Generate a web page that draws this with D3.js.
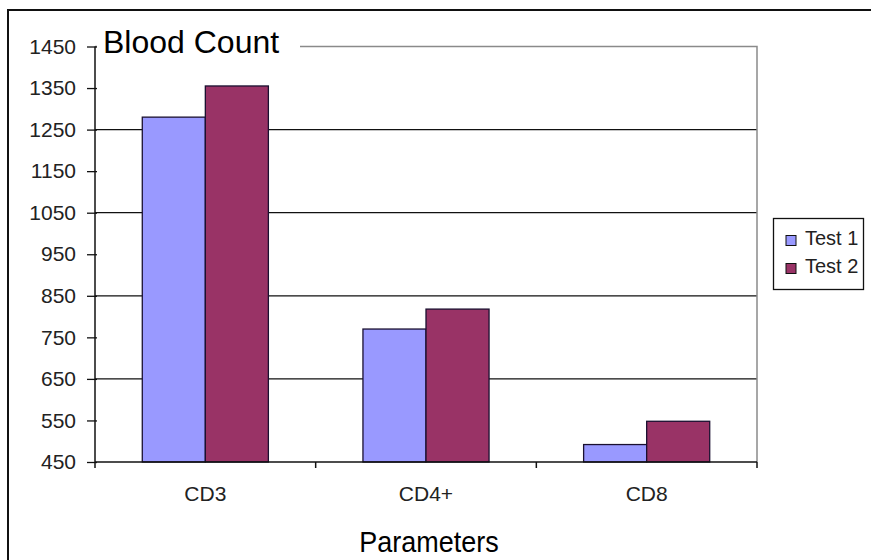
<!DOCTYPE html>
<html lang="en">
<head>
    <meta charset="UTF-8">
    <title>Blood Count</title>
    <script src="https://d3js.org/d3.v7.min.js"></script>
    <style>
        body {
            margin: 0;
            padding: 0;
            background-color: white;
            font-family: 'Liberation Sans', Arial, sans-serif;
        }
        svg { display: block; }
    </style>
</head>
<body>
    <svg width="871" height="560"></svg>

    <script>
        // chart data
        const categories = ["CD3", "CD4+", "CD8"];
        const seriesNames = ["Test 1", "Test 2"];
        const test1 = [1280, 770, 492];
        const test2 = [1355, 818, 548];
        const yTicks = [450, 550, 650, 750, 850, 950, 1050, 1150, 1250, 1350, 1450];
        const gridValues = [650, 850, 1050, 1250];
        const colors = ["#9999ff", "#993366"];

        const svg = d3.select("svg");
        const plot = {left: 95, right: 757, top: 46.5, bottom: 462};

        // outer frame, runs off the right and bottom of the picture
        svg.append("rect")
            .attr("x", 8).attr("y", 10)
            .attr("width", 900).attr("height", 600)
            .attr("fill", "white")
            .attr("stroke", "#111")
            .attr("stroke-width", 2);

        const x0 = d3.scaleBand().domain(categories).range([plot.left, plot.right]);
        const x1 = d3.scaleBand().domain(seriesNames).range([0, x0.bandwidth()]).paddingOuter(0.75);
        const y = d3.scaleLinear().domain([450, 1450]).range([plot.bottom, plot.top]);

        // gridlines
        svg.append("g")
            .selectAll("line")
            .data(gridValues)
            .enter().append("line")
            .attr("x1", plot.left).attr("x2", plot.right)
            .attr("y1", d => y(d)).attr("y2", d => y(d))
            .attr("stroke", "#111")
            .attr("stroke-width", 1.3);

        // top and right edge of plot area
        svg.append("path")
            .attr("d", `M${plot.left},${plot.top}H${plot.right}V${plot.bottom}`)
            .attr("fill", "none")
            .attr("stroke", "#8a8a8a")
            .attr("stroke-width", 1.5);

        // bars
        const rows = categories.map((c, i) => ({cat: c, values: [test1[i], test2[i]]}));
        svg.append("g")
            .selectAll("g")
            .data(rows)
            .enter().append("g")
            .attr("transform", d => `translate(${x0(d.cat)},0)`)
            .selectAll("rect")
            .data(d => d.values.map((v, j) => ({name: seriesNames[j], value: v, color: colors[j]})))
            .enter().append("rect")
            .attr("x", d => x1(d.name))
            .attr("width", x1.bandwidth())
            .attr("y", d => y(d.value))
            .attr("height", d => y(450) - y(d.value))
            .attr("fill", d => d.color)
            .attr("stroke", "#1a1030")
            .attr("stroke-width", 1.3);

        // y axis
        const yAxis = svg.append("g")
            .attr("transform", `translate(${plot.left},0)`)
            .call(d3.axisLeft(y).tickValues(yTicks).tickFormat(d3.format("d"))
                .tickSize(8).tickPadding(11).tickSizeOuter(0));
        yAxis.select(".domain").remove();
        yAxis.append("line")
            .attr("x1", 0).attr("x2", 0)
            .attr("y1", plot.top).attr("y2", plot.bottom + 6)
            .attr("stroke", "#111").attr("stroke-width", 1.5);
        yAxis.selectAll(".tick line").attr("x2", 2).attr("x1", -8).attr("stroke", "#111").attr("stroke-width", 1.3);
        yAxis.selectAll(".tick text")
            .attr("fill", "#222")
            .style("font-size", "21px")
            .style("font-family", "'Liberation Sans', Arial, sans-serif");

        // x axis
        const xAxis = svg.append("g")
            .attr("transform", `translate(0,${plot.bottom})`)
            .call(d3.axisBottom(x0).tickSize(0).tickPadding(24));
        xAxis.select(".domain")
            .attr("d", `M${plot.left},0H${plot.right}`)
            .attr("stroke", "#111").attr("stroke-width", 1.5);
        xAxis.selectAll(".tick text")
            .attr("fill", "#222")
            .style("font-size", "21px")
            .style("font-family", "'Liberation Sans', Arial, sans-serif");
        xAxis.selectAll(".sep")
            .data(categories)
            .enter().append("line")
            .attr("class", "sep")
            .attr("x1", d => x0(d) + x0.bandwidth()).attr("x2", d => x0(d) + x0.bandwidth())
            .attr("y1", 0).attr("y2", 6)
            .attr("stroke", "#111").attr("stroke-width", 1.5);

        // title, sitting on a white patch over the top edge
        svg.append("rect")
            .attr("x", plot.left + 2).attr("y", 24)
            .attr("width", 203).attr("height", 36)
            .attr("fill", "white");
        svg.append("text")
            .attr("x", 103).attr("y", 52.5)
            .attr("fill", "#000")
            .style("font-size", "32px")
            .text("Blood Count");

        // axis title, a little taller than wide like the original
        svg.append("text")
            .attr("transform", `translate(${(plot.left + plot.right) / 2 + 3},551.5) scale(1,1.12)`)
            .attr("text-anchor", "middle")
            .attr("fill", "#000")
            .style("font-size", "27px")
            .text("Parameters");

        // legend
        const legend = svg.append("g");
        legend.append("rect")
            .attr("x", 773.5).attr("y", 218.5)
            .attr("width", 90).attr("height", 71)
            .attr("fill", "white")
            .attr("stroke", "#111")
            .attr("stroke-width", 1.3);
        const items = legend.selectAll(".item")
            .data(seriesNames)
            .enter().append("g")
            .attr("class", "item")
            .attr("transform", (d, i) => `translate(0,${i * 28})`);
        items.append("rect")
            .attr("x", 786).attr("y", 235.5)
            .attr("width", 10).attr("height", 10)
            .attr("fill", (d, i) => colors[i])
            .attr("stroke", "#111")
            .attr("stroke-width", 1);
        items.append("text")
            .attr("x", 805).attr("y", 245)
            .attr("fill", "#222")
            .style("font-size", "20px")
            .text(d => d);
    </script>
</body>
</html>
